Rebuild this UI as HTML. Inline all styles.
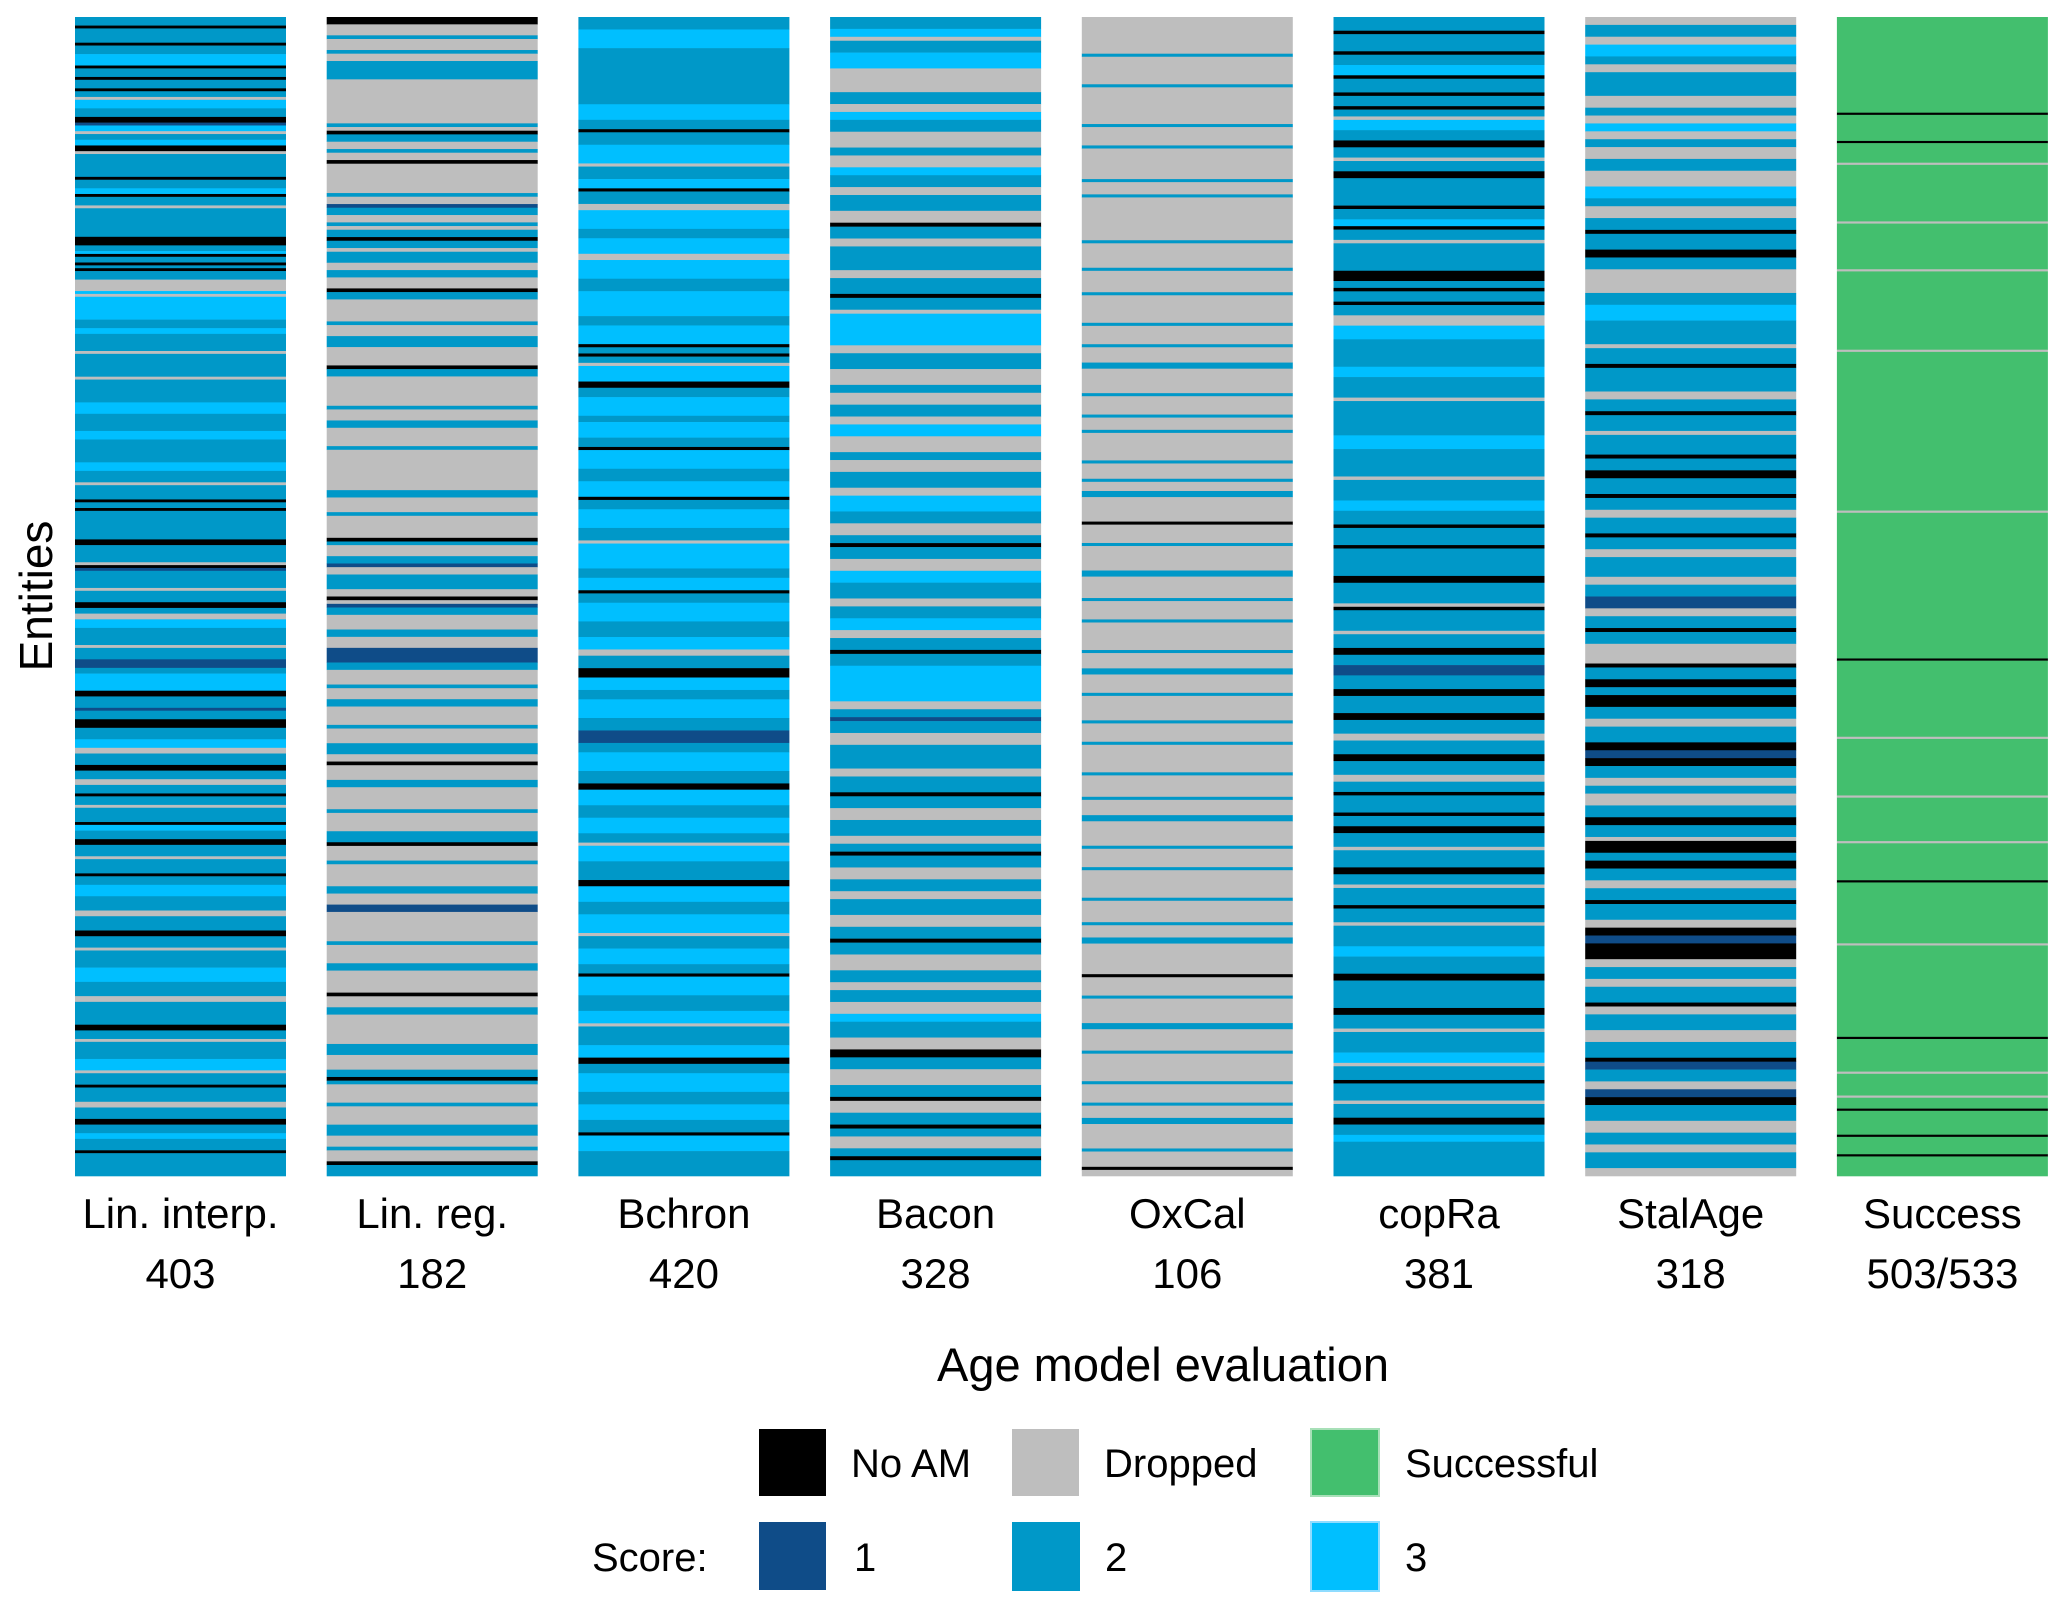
<!DOCTYPE html>
<html><head><meta charset="utf-8">
<style>
html,body{margin:0;padding:0;background:#fff;}
svg{display:block;font-family:"Liberation Sans Narrow","Liberation Sans",sans-serif;}
</style></head>
<body>
<svg id="chart" width="2067" height="1611" viewBox="0 0 2067 1611" xmlns="http://www.w3.org/2000/svg">
<g id="cells"></g>
<g id="labels"></g>
<text transform="translate(52,596) rotate(-90)" text-anchor="middle" font-size="46" fill="#000">Entities</text>
<text x="1163" y="1381" text-anchor="middle" font-size="47" fill="#000">Age model evaluation</text>
<g>
<rect x="759" y="1429" width="67" height="67" fill="#000"/>
<text x="851" y="1477" font-size="40">No AM</text>
<rect x="1012" y="1429" width="67" height="67" fill="#bebebe"/>
<text x="1104" y="1477" font-size="40">Dropped</text>
<rect x="1311" y="1429" width="68" height="67" fill="#43bf6e" stroke="#a8e0b8" stroke-width="2"/>
<text x="1405" y="1477" font-size="40">Successful</text>
<text x="592" y="1571" font-size="40">Score:</text>
<rect x="759" y="1522" width="67" height="68" fill="#0f4c88"/>
<text x="854" y="1571" font-size="40">1</text>
<rect x="1012" y="1522" width="68" height="69" fill="#0098c8"/>
<text x="1105" y="1571" font-size="40">2</text>
<rect x="1311" y="1522" width="68" height="69" fill="#00bfff" stroke="#8fdcff" stroke-width="2"/>
<text x="1405" y="1571" font-size="40">3</text>
</g>
</svg>
<script>
const columnNames = ["Lin. interp.","Lin. reg.","Bchron","Bacon","OxCal","copRa","StalAge","Success"];
const columnCounts = ["403","182","420","328","106","381","318","503/533"];
// run-length encoded states per column: code count (0=No AM, d=Dropped, 1/2/3=score, s=successful)
const runsLinInterp = "2 3,0 1,2 5,0 1,2 3,3 4,0 1,2 3,0 1,2 3,0 1,2 2,d 1,3 3,2 3,0 2,1 1,3 2,d 1,2 2,3 2,0 2,d 1,2 8,0 1,2 3,3 2,0 1,2 3,d 1,2 10,0 3,2 2,3 1,0 1,2 2,0 1,2 1,0 1,2 3,d 4,3 1,d 1,3 8,2 3,3 2,2 6,d 1,2 8,d 1,2 8,3 4,2 6,3 3,2 8,3 3,2 4,d 1,2 5,0 1,2 2,0 1,2 10,0 2,2 6,d 1,0 1,1 1,2 6,d 1,2 4,0 2,2 2,d 2,3 3,2 6,d 1,2 4,1 3,2 2,3 6,0 2,2 4,1 1,2 3,0 3,2 4,3 3,d 2,2 4,0 2,2 3,d 2,2 3,0 1,2 3,d 1,2 5,0 1,3 2,2 3,0 2,2 4,d 1,2 5,0 1,2 3,3 4,2 5,d 2,2 5,0 2,2 4,d 1,2 6,3 5,2 5,d 2,2 8,0 2,2 3,d 1,2 6,3 4,d 1,2 4,0 1,2 5,d 2,2 4,0 2,2 3,3 2,2 4,0 1,2 8";
const runsLinReg = "0 2,d 3,2 1,d 3,2 1,d 2,2 5,d 12,2 1,d 1,0 1,2 2,d 2,2 1,d 2,0 1,d 8,2 1,d 2,1 1,2 2,d 2,2 1,d 1,2 2,0 1,2 2,d 1,2 3,d 2,2 2,d 3,0 1,2 2,d 6,2 1,d 3,2 3,d 5,0 1,2 2,d 8,2 1,d 3,2 2,d 5,2 1,d 11,2 2,d 4,2 1,d 6,0 1,2 1,d 3,2 2,1 1,d 2,2 4,d 2,0 1,d 1,1 1,2 2,d 4,2 2,d 3,1 4,2 2,d 4,2 1,d 3,2 2,d 5,2 1,d 4,2 3,d 2,0 1,d 4,2 2,d 6,2 1,d 5,2 3,0 1,d 4,2 1,d 6,2 2,d 3,1 2,d 8,2 1,d 5,2 2,d 6,0 1,d 3,2 2,d 8,2 3,d 4,2 2,0 1,2 1,d 5,2 1,d 5,2 3,d 3,2 1,d 3,0 1,2 3";
const runsBchron = "2 4,3 6,2 18,3 5,2 3,0 1,2 4,3 6,d 1,2 4,3 3,0 1,2 4,d 2,3 6,2 3,3 5,d 2,3 6,2 4,3 8,2 3,3 6,0 1,2 2,0 1,2 2,d 1,3 5,0 2,2 3,3 6,2 2,3 5,2 3,0 1,3 6,2 4,3 5,0 1,2 3,3 6,2 4,d 1,3 8,2 3,3 4,0 1,2 3,3 6,2 5,3 4,d 2,2 4,0 3,3 4,2 3,3 6,2 4,1 4,2 3,3 6,2 4,0 2,3 5,2 4,3 5,2 3,d 1,3 5,2 6,0 2,3 5,2 4,3 6,d 1,2 4,3 5,2 3,0 1,3 6,2 5,3 4,d 1,2 6,3 4,0 2,2 3,3 6,2 4,3 5,2 4,0 1,3 5,2 8";
const runsBacon = "2 3,3 2,d 1,2 3,3 4,d 6,2 3,d 2,3 2,2 3,d 4,2 2,d 3,3 2,2 3,d 2,2 4,d 3,0 1,2 3,d 2,2 6,d 2,2 4,0 1,2 3,d 1,3 8,d 2,2 4,d 4,2 2,d 3,2 3,d 2,3 3,d 4,2 2,d 3,2 4,d 2,3 4,2 3,d 3,2 2,0 1,2 3,d 3,3 3,2 4,d 2,2 3,3 3,d 2,2 3,0 1,2 3,3 9,d 2,2 2,1 1,2 3,d 3,2 6,d 2,2 4,0 1,2 3,d 3,2 4,d 2,2 2,0 1,2 3,d 3,2 3,d 2,2 4,d 3,2 3,0 1,2 3,d 4,2 3,d 2,2 3,d 3,3 2,2 4,d 3,0 2,2 3,d 4,2 3,0 1,d 3,2 3,0 1,2 2,d 3,2 2,0 1,2 4";
const runsOxCal = "d 12,2 1,d 9,2 1,d 12,2 1,d 6,2 1,d 10,2 1,d 4,2 1,d 14,2 1,d 8,2 1,d 7,2 1,d 9,2 1,d 6,2 1,d 5,2 2,d 8,2 1,d 6,2 1,d 4,2 1,d 9,2 1,d 5,2 1,d 3,2 2,d 8,0 1,d 6,2 1,d 8,2 2,d 7,2 1,d 6,2 1,d 9,2 1,d 5,2 2,d 6,2 1,d 8,2 1,d 6,2 1,d 9,2 1,d 7,2 1,d 5,2 2,d 8,2 1,d 6,2 1,d 9,2 1,d 7,2 1,d 4,2 2,d 10,0 1,d 6,2 1,d 8,2 2,d 7,2 1,d 9,2 1,d 6,2 1,d 4,2 2,d 8,2 1,d 5,0 1,d 2";
const runsCopRa = "2 4,0 1,2 5,0 1,2 3,3 3,0 1,2 4,0 1,2 3,0 1,2 2,d 1,3 3,2 3,0 2,2 3,d 1,2 3,0 2,2 8,0 1,2 3,3 2,0 1,2 3,d 1,2 8,0 3,2 2,0 1,2 3,0 1,2 3,d 3,3 4,2 8,3 3,2 6,d 1,2 10,3 4,2 8,d 1,2 6,3 3,2 4,0 1,2 5,0 1,2 8,0 2,2 6,d 1,0 1,2 6,d 1,2 4,0 2,2 3,1 3,2 4,0 2,2 5,0 2,2 4,d 2,2 4,0 2,2 4,d 2,2 3,0 1,2 5,0 1,2 3,0 2,2 4,d 1,2 5,0 2,2 3,d 1,2 5,0 1,2 4,d 1,2 6,3 3,2 5,0 2,2 8,0 2,2 4,d 1,2 6,3 3,d 1,2 4,0 1,2 5,d 1,2 4,0 2,2 3,3 2,2 10";
const runsStalAge = "d 2,2 3,d 2,3 3,2 2,d 2,2 6,d 3,2 2,d 2,3 2,d 2,2 2,d 3,2 3,d 4,3 3,2 2,d 3,2 3,0 1,2 4,0 2,2 3,d 6,2 3,3 4,2 6,d 1,2 4,0 1,2 6,d 2,2 3,0 1,2 4,d 1,2 5,0 1,2 3,0 2,2 4,0 1,2 3,d 2,2 4,0 1,2 3,d 2,2 5,d 2,2 3,1 3,d 2,2 3,0 1,2 3,d 5,0 1,2 3,0 2,2 2,0 3,2 3,d 2,2 4,0 2,1 2,0 2,2 3,d 2,2 2,d 3,2 3,0 2,2 3,d 1,0 3,2 2,0 2,2 3,d 2,2 3,0 1,2 4,d 2,0 2,1 2,0 4,d 2,2 3,d 2,2 4,0 1,d 2,2 4,d 3,2 4,0 1,1 2,2 3,d 2,1 2,0 2,2 4,d 3,2 3,d 2,2 4,d 2";
const runsSuccess = "s 44,0 1,s 12,0 1,s 9,d 1,s 26,d 1,s 21,d 1,s 36,d 1,s 73,d 1,s 67,0 1,s 35,d 1,s 26,d 1,s 20,d 1,s 17,0 1,s 28,d 1,s 42,0 1,s 15,d 1,s 10,d 1,s 5,0 1,s 11,0 1,s 8,0 1,s 9";
const columnRuns = [runsLinInterp,runsLinReg,runsBchron,runsBacon,runsOxCal,runsCopRa,runsStalAge,runsSuccess];

const stateColors = {"0":"#000000","d":"#bebebe","1":"#0f4c88","2":"#0098c8","3":"#00bfff","s":"#43bf6e"};
const plotTop = 17, plotBottom = 1176, colX0 = 75, colStep = 251.7, colW = 211;
function yScale(r, total){ return plotTop + r*(plotBottom-plotTop)/total; }
function xScale(c){ return colX0 + c*colStep; }
const NS = "http://www.w3.org/2000/svg";
const cellsG = document.getElementById('cells');
const labelsG = document.getElementById('labels');
columnRuns.forEach((rs, ci) => {
  const runs = rs.split(',').map(p => { const a = p.trim().split(' '); return [a[0], +a[1]]; });
  const total = runs.reduce((s, r) => s + r[1], 0);
  let row = 0;
  const x = xScale(ci);
  for (const [code, n] of runs) {
    const end = row + n;
    const r = document.createElementNS(NS,'rect');
    
    
    r.setAttribute('x', x); r.setAttribute('width', colW);
    r.setAttribute('y', yScale(row, total)); r.setAttribute('height', yScale(end, total)-yScale(row, total)+0.3);
    r.setAttribute('fill', stateColors[code]);
    cellsG.appendChild(r);
    row = end;
  }
  const t1 = document.createElementNS(NS,'text');
  
  
  t1.setAttribute('x', x + colW/2); t1.setAttribute('y', 1228);
  t1.setAttribute('text-anchor','middle'); t1.setAttribute('font-size','42');
  t1.textContent = columnNames[ci];
  labelsG.appendChild(t1);
  const t2 = document.createElementNS(NS,'text');
  
  
  t2.setAttribute('x', x + colW/2); t2.setAttribute('y', 1288);
  t2.setAttribute('text-anchor','middle'); t2.setAttribute('font-size','42');
  t2.textContent = columnCounts[ci];
  labelsG.appendChild(t2);
});
</script>
</body></html>
